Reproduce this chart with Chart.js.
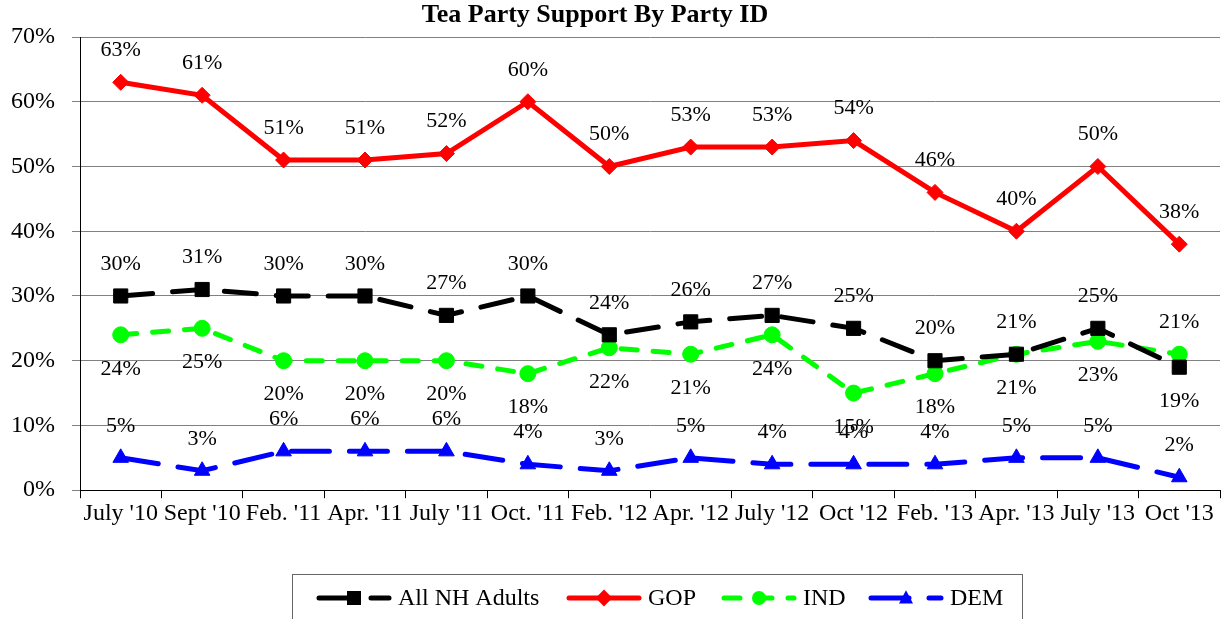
<!DOCTYPE html>
<html>
<head>
<meta charset="utf-8">
<script src="https://cdn.jsdelivr.net/npm/chart.js@4/dist/chart.umd.min.js"></script>
<style>
  html, body { margin: 0; padding: 0; background: #fff; }
  #wrap { width: 1231px; height: 619px; }
</style>
</head>
<body>
<div id="wrap"><canvas id="teaChart" width="1231" height="619"></canvas></div>
<script>
// Survey dates
const periods = ["July '10", "Sept '10", "Feb. '11", "Apr. '11", "July '11", "Oct. '11", "Feb. '12",
  "Apr. '12", "July '12", "Oct '12", "Feb. '13", "Apr. '13", "July '13", "Oct '13"];

// Percent supporting the Tea Party
const allAdults = [30, 31, 30, 30, 27, 30, 24, 26, 27, 25, 20, 21, 25, 19];
const gop = [63, 61, 51, 51, 52, 60, 50, 53, 53, 54, 46, 40, 50, 38];
const ind = [24, 25, 20, 20, 20, 18, 22, 21, 24, 15, 18, 21, 23, 21];
const dem = [5, 3, 6, 6, 6, 4, 3, 5, 4, 4, 4, 5, 5, 2];

const yTicks = [0, 10, 20, 30, 40, 50, 60, 70];

const chartTitle = 'Tea Party Support By Party ID';
const serif = '"Liberation Serif", "Times New Roman", serif';

// where each series puts its value labels ('up' / 'down'), last point swapped for NH / IND
const labelSide = [
  periods.map((_, i) => i === periods.length - 1 ? 'down' : 'up'),
  periods.map(() => 'up'),
  periods.map((_, i) => i === periods.length - 1 ? 'up' : 'down'),
  periods.map(() => 'up')
];

const valueLabels = {
  id: 'valueLabels',
  afterDatasetsDraw(chart) {
    const ctx = chart.ctx;
    ctx.save();
    ctx.font = '22px ' + serif;
    ctx.fillStyle = '#000';
    ctx.textAlign = 'center';
    ctx.textBaseline = 'middle';
    chart.data.datasets.forEach((ds, di) => {
      chart.getDatasetMeta(di).data.forEach((pt, i) => {
        const off = labelSide[di][i] === 'up' ? -32 : 34;
        ctx.fillText(ds.data[i] + '%', pt.x, pt.y + off);
      });
    });
    ctx.restore();
  }
};

// title sits a little left of centre in the original
const topTitle = {
  id: 'topTitle',
  afterDraw(chart) {
    const ctx = chart.ctx;
    ctx.save();
    ctx.font = 'bold 26px ' + serif;
    ctx.fillStyle = '#000';
    ctx.textAlign = 'center';
    ctx.textBaseline = 'middle';
    ctx.fillText(chartTitle, 595, 15);
    ctx.restore();
  }
};

function marker(ctx, style, x, y, r) {
  ctx.beginPath();
  if (style === 'rect') {
    ctx.rect(x - r, y - r, 2 * r, 2 * r);
  } else if (style === 'rectRot') {
    ctx.moveTo(x, y - r * 1.2); ctx.lineTo(x + r * 1.2, y); ctx.lineTo(x, y + r * 1.2); ctx.lineTo(x - r * 1.2, y);
    ctx.closePath();
  } else if (style === 'circle') {
    ctx.arc(x, y, r, 0, Math.PI * 2);
  } else {
    ctx.moveTo(x, y - r * 1.1); ctx.lineTo(x + r, y + r * 0.8); ctx.lineTo(x - r, y + r * 0.8);
    ctx.closePath();
  }
  ctx.fill();
}

// legend drawn by hand so each entry shows line + marker like the original
const boxLegend = {
  id: 'boxLegend',
  afterDraw(chart) {
    const ctx = chart.ctx;
    ctx.save();
    ctx.strokeStyle = '#666';
    ctx.lineWidth = 1;
    ctx.strokeRect(292.5, 574.5, 730, 60);
    const xs = [319, 569, 724, 871];
    const y = 598;
    ctx.font = '24px ' + serif;
    ctx.textBaseline = 'middle';
    chart.data.datasets.forEach((ds, i) => {
      const x0 = xs[i];
      ctx.strokeStyle = ds.borderColor;
      ctx.fillStyle = ds.borderColor;
      ctx.lineWidth = 5;
      ctx.lineCap = 'round';
      ctx.setLineDash(ds.borderDash || []);
      ctx.beginPath(); ctx.moveTo(x0, y); ctx.lineTo(x0 + 70, y); ctx.stroke();
      ctx.setLineDash([]);
      marker(ctx, ds.pointStyle, x0 + 35, y, 7);
      ctx.fillStyle = '#000';
      ctx.fillText(ds.label, x0 + 79, y + 1);
    });
    ctx.restore();
  }
};

const mk = (label, data, color, style, dash, r) => ({
  label, data,
  borderColor: color, backgroundColor: color,
  borderWidth: 5, borderDash: dash, borderCapStyle: 'round',
  pointStyle: style, pointRadius: r, pointHoverRadius: r,
  pointBorderWidth: 1, tension: 0
});

new Chart(document.getElementById('teaChart'), {
  type: 'line',
  data: {
    labels: periods,
    datasets: [
      mk('All NH Adults', allAdults, '#000000', 'rect', [32, 20], 10),
      mk('GOP', gop, '#ff0000', 'rectRot', [], 8),
      mk('IND', ind, '#00ff00', 'circle', [16, 16], 8),
      mk('DEM', dem, '#0000ff', 'triangle', [38, 20], 9)
    ]
  },
  options: {
    responsive: false,
    animation: false,
    layout: { padding: { left: 8, right: 8, top: 37, bottom: 90 } },
    plugins: {
      legend: { display: false },
      tooltip: { enabled: false },
      title: { display: false }
    },
    scales: {
      x: {
        offset: true,
        grid: { offset: true, drawOnChartArea: false, color: '#000', tickLength: 8 },
        border: { color: '#000', width: 1 },
        ticks: { color: '#000', font: { family: serif, size: 24 }, maxRotation: 0, autoSkip: false, padding: 1 }
      },
      y: {
        min: 0, max: 70,
        afterBuildTicks(axis) { axis.ticks = yTicks.map(v => ({ value: v })); },
        afterFit(axis) { axis.width = 72; },
        grid: { color: '#808080', tickLength: 8, lineWidth: 1 },
        border: { color: '#000', width: 1 },
        ticks: { color: '#000', font: { family: serif, size: 24 }, padding: 17, callback: v => v + '%' }
      }
    }
  },
  plugins: [valueLabels, topTitle, boxLegend]
});
</script>
</body>
</html>
